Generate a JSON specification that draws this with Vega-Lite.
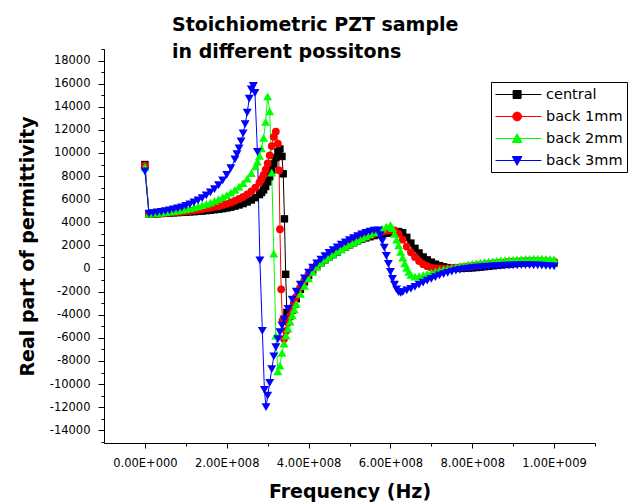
{
  "$schema": "https://vega.github.io/schema/vega-lite/v6.json",
  "width": 491,
  "height": 394,
  "autosize": "none",
  "padding": {"left": 104, "top": 49, "right": 48, "bottom": 59},
  "background": "white",
  "config": {
    "view": {"stroke": null},
    "font": "DejaVu Sans",
    "axis": {"domainColor": "black", "tickColor": "black", "labelColor": "black", "titleColor": "black", "grid": false, "domainWidth": 1, "tickWidth": 1},
    "legend": {"strokeColor": "black", "fillColor": "white", "padding": 5}
  },
  "title": {
    "text": ["Stoichiometric PZT sample", "in different possitons"],
    "anchor": "start",
    "frame": "group",
    "orient": "top",
    "font": "DejaVu Sans",
    "fontWeight": "bold",
    "fontSize": 19,
    "lineHeight": 26.5,
    "color": "black",
    "baseline": "alphabetic",
    "dx": 68,
    "offset": -33.5
  },
  "data": {
    "values": [
      {"s":"central","f":0,"e":9000},{"s":"central","f":1e7,"e":4700},{"s":"central","f":2e7,"e":4720},{"s":"central","f":3e7,"e":4740},{"s":"central","f":4e7,"e":4760},{"s":"central","f":5e7,"e":4780},{"s":"central","f":6e7,"e":4800},{"s":"central","f":7e7,"e":4820},{"s":"central","f":8e7,"e":4840},{"s":"central","f":9e7,"e":4860},
      {"s":"central","f":1e8,"e":4880},{"s":"central","f":1.1e8,"e":4900},{"s":"central","f":1.2e8,"e":4920},{"s":"central","f":1.3e8,"e":4950},{"s":"central","f":1.4e8,"e":4980},{"s":"central","f":1.5e8,"e":5010},{"s":"central","f":1.6e8,"e":5050},{"s":"central","f":1.7e8,"e":5090},{"s":"central","f":1.8e8,"e":5130},{"s":"central","f":1.9e8,"e":5180},
      {"s":"central","f":2e8,"e":5240},{"s":"central","f":2.1e8,"e":5310},{"s":"central","f":2.2e8,"e":5400},{"s":"central","f":2.3e8,"e":5500},{"s":"central","f":2.4e8,"e":5620},{"s":"central","f":2.5e8,"e":5760},{"s":"central","f":2.6e8,"e":5930},{"s":"central","f":2.7e8,"e":6130},{"s":"central","f":2.8e8,"e":6400},{"s":"central","f":2.85e8,"e":6580},{"s":"central","f":2.9e8,"e":6800},{"s":"central","f":2.95e8,"e":7100},
      {"s":"central","f":3e8,"e":7500},{"s":"central","f":3.05e8,"e":7950},{"s":"central","f":3.1e8,"e":8500},{"s":"central","f":3.15e8,"e":9050},{"s":"central","f":3.2e8,"e":9600},{"s":"central","f":3.25e8,"e":10100},{"s":"central","f":3.3e8,"e":10350},{"s":"central","f":3.35e8,"e":9700},{"s":"central","f":3.38e8,"e":8200},{"s":"central","f":3.41e8,"e":4300},{"s":"central","f":3.44e8,"e":-500},{"s":"central","f":3.47e8,"e":-3800},
      {"s":"central","f":3.5e8,"e":-4500},{"s":"central","f":3.55e8,"e":-4100},{"s":"central","f":3.6e8,"e":-3600},{"s":"central","f":3.65e8,"e":-3100},{"s":"central","f":3.7e8,"e":-2600},{"s":"central","f":3.8e8,"e":-1800},{"s":"central","f":3.9e8,"e":-1150},
      {"s":"central","f":4e8,"e":-600},{"s":"central","f":4.1e8,"e":-150},{"s":"central","f":4.2e8,"e":200},{"s":"central","f":4.3e8,"e":500},{"s":"central","f":4.4e8,"e":750},{"s":"central","f":4.5e8,"e":1000},{"s":"central","f":4.6e8,"e":1200},{"s":"central","f":4.7e8,"e":1430},{"s":"central","f":4.8e8,"e":1650},{"s":"central","f":4.9e8,"e":1850},
      {"s":"central","f":5e8,"e":2050},{"s":"central","f":5.1e8,"e":2230},{"s":"central","f":5.2e8,"e":2400},{"s":"central","f":5.3e8,"e":2530},{"s":"central","f":5.4e8,"e":2650},{"s":"central","f":5.5e8,"e":2750},{"s":"central","f":5.6e8,"e":2850},{"s":"central","f":5.7e8,"e":2930},{"s":"central","f":5.8e8,"e":3000},{"s":"central","f":5.9e8,"e":3060},
      {"s":"central","f":6e8,"e":3100},{"s":"central","f":6.1e8,"e":3150},{"s":"central","f":6.2e8,"e":3200},{"s":"central","f":6.3e8,"e":3100},{"s":"central","f":6.4e8,"e":2700},{"s":"central","f":6.5e8,"e":2200},{"s":"central","f":6.6e8,"e":1750},{"s":"central","f":6.7e8,"e":1350},{"s":"central","f":6.8e8,"e":1000},{"s":"central","f":6.9e8,"e":750},
      {"s":"central","f":7e8,"e":550},{"s":"central","f":7.1e8,"e":380},{"s":"central","f":7.2e8,"e":250},{"s":"central","f":7.3e8,"e":150},{"s":"central","f":7.4e8,"e":80},{"s":"central","f":7.5e8,"e":40},{"s":"central","f":7.6e8,"e":20},{"s":"central","f":7.7e8,"e":10},{"s":"central","f":7.8e8,"e":20},{"s":"central","f":7.9e8,"e":40},
      {"s":"central","f":8e8,"e":60},{"s":"central","f":8.1e8,"e":90},{"s":"central","f":8.2e8,"e":120},{"s":"central","f":8.3e8,"e":160},{"s":"central","f":8.4e8,"e":200},{"s":"central","f":8.5e8,"e":240},{"s":"central","f":8.6e8,"e":280},{"s":"central","f":8.7e8,"e":320},{"s":"central","f":8.8e8,"e":350},{"s":"central","f":8.9e8,"e":390},
      {"s":"central","f":9e8,"e":420},{"s":"central","f":9.1e8,"e":450},{"s":"central","f":9.2e8,"e":480},{"s":"central","f":9.3e8,"e":500},{"s":"central","f":9.4e8,"e":520},{"s":"central","f":9.5e8,"e":530},{"s":"central","f":9.6e8,"e":540},{"s":"central","f":9.7e8,"e":540},{"s":"central","f":9.8e8,"e":520},{"s":"central","f":9.9e8,"e":500},{"s":"central","f":1e9,"e":480},

      {"s":"back 1mm","f":0,"e":8900},{"s":"back 1mm","f":1e7,"e":4720},{"s":"back 1mm","f":2e7,"e":4740},{"s":"back 1mm","f":3e7,"e":4760},{"s":"back 1mm","f":4e7,"e":4780},{"s":"back 1mm","f":5e7,"e":4800},{"s":"back 1mm","f":6e7,"e":4830},{"s":"back 1mm","f":7e7,"e":4860},{"s":"back 1mm","f":8e7,"e":4890},{"s":"back 1mm","f":9e7,"e":4920},
      {"s":"back 1mm","f":1e8,"e":4960},{"s":"back 1mm","f":1.1e8,"e":5000},{"s":"back 1mm","f":1.2e8,"e":5040},{"s":"back 1mm","f":1.3e8,"e":5090},{"s":"back 1mm","f":1.4e8,"e":5140},{"s":"back 1mm","f":1.5e8,"e":5200},{"s":"back 1mm","f":1.6e8,"e":5260},{"s":"back 1mm","f":1.7e8,"e":5330},{"s":"back 1mm","f":1.8e8,"e":5410},{"s":"back 1mm","f":1.9e8,"e":5500},
      {"s":"back 1mm","f":2e8,"e":5600},{"s":"back 1mm","f":2.1e8,"e":5720},{"s":"back 1mm","f":2.2e8,"e":5860},{"s":"back 1mm","f":2.3e8,"e":6020},{"s":"back 1mm","f":2.4e8,"e":6200},{"s":"back 1mm","f":2.5e8,"e":6420},{"s":"back 1mm","f":2.6e8,"e":6680},{"s":"back 1mm","f":2.7e8,"e":7000},{"s":"back 1mm","f":2.8e8,"e":7450},{"s":"back 1mm","f":2.85e8,"e":7750},{"s":"back 1mm","f":2.9e8,"e":8100},{"s":"back 1mm","f":2.95e8,"e":8550},
      {"s":"back 1mm","f":3e8,"e":9100},{"s":"back 1mm","f":3.05e8,"e":9800},{"s":"back 1mm","f":3.1e8,"e":10600},{"s":"back 1mm","f":3.15e8,"e":11400},{"s":"back 1mm","f":3.2e8,"e":11850},{"s":"back 1mm","f":3.25e8,"e":10800},{"s":"back 1mm","f":3.28e8,"e":8500},{"s":"back 1mm","f":3.3e8,"e":3400},{"s":"back 1mm","f":3.33e8,"e":-1800},{"s":"back 1mm","f":3.36e8,"e":-4500},
      {"s":"back 1mm","f":3.4e8,"e":-6100},{"s":"back 1mm","f":3.45e8,"e":-5400},{"s":"back 1mm","f":3.5e8,"e":-4700},{"s":"back 1mm","f":3.55e8,"e":-4100},{"s":"back 1mm","f":3.6e8,"e":-3500},{"s":"back 1mm","f":3.65e8,"e":-2950},{"s":"back 1mm","f":3.7e8,"e":-2450},{"s":"back 1mm","f":3.8e8,"e":-1650},{"s":"back 1mm","f":3.9e8,"e":-1050},
      {"s":"back 1mm","f":4e8,"e":-500},{"s":"back 1mm","f":4.1e8,"e":-80},{"s":"back 1mm","f":4.2e8,"e":280},{"s":"back 1mm","f":4.3e8,"e":560},{"s":"back 1mm","f":4.4e8,"e":820},{"s":"back 1mm","f":4.5e8,"e":1050},{"s":"back 1mm","f":4.6e8,"e":1270},{"s":"back 1mm","f":4.7e8,"e":1480},{"s":"back 1mm","f":4.8e8,"e":1700},{"s":"back 1mm","f":4.9e8,"e":1900},
      {"s":"back 1mm","f":5e8,"e":2100},{"s":"back 1mm","f":5.1e8,"e":2280},{"s":"back 1mm","f":5.2e8,"e":2450},{"s":"back 1mm","f":5.3e8,"e":2600},{"s":"back 1mm","f":5.4e8,"e":2750},{"s":"back 1mm","f":5.5e8,"e":2880},{"s":"back 1mm","f":5.6e8,"e":3000},{"s":"back 1mm","f":5.7e8,"e":3100},{"s":"back 1mm","f":5.8e8,"e":3200},{"s":"back 1mm","f":5.9e8,"e":3260},
      {"s":"back 1mm","f":6e8,"e":3300},{"s":"back 1mm","f":6.1e8,"e":3300},{"s":"back 1mm","f":6.2e8,"e":3000},{"s":"back 1mm","f":6.3e8,"e":2500},{"s":"back 1mm","f":6.4e8,"e":1900},{"s":"back 1mm","f":6.5e8,"e":1400},{"s":"back 1mm","f":6.6e8,"e":1000},{"s":"back 1mm","f":6.7e8,"e":650},{"s":"back 1mm","f":6.8e8,"e":380},{"s":"back 1mm","f":6.9e8,"e":200},
      {"s":"back 1mm","f":7e8,"e":80},{"s":"back 1mm","f":7.1e8,"e":20},{"s":"back 1mm","f":7.2e8,"e":0},{"s":"back 1mm","f":7.3e8,"e":0},{"s":"back 1mm","f":7.4e8,"e":10},{"s":"back 1mm","f":7.5e8,"e":30},{"s":"back 1mm","f":7.6e8,"e":60},{"s":"back 1mm","f":7.7e8,"e":100},{"s":"back 1mm","f":7.8e8,"e":140},{"s":"back 1mm","f":7.9e8,"e":180},
      {"s":"back 1mm","f":8e8,"e":220},{"s":"back 1mm","f":8.1e8,"e":270},{"s":"back 1mm","f":8.2e8,"e":320},{"s":"back 1mm","f":8.3e8,"e":370},{"s":"back 1mm","f":8.4e8,"e":410},{"s":"back 1mm","f":8.5e8,"e":450},{"s":"back 1mm","f":8.6e8,"e":490},{"s":"back 1mm","f":8.7e8,"e":520},{"s":"back 1mm","f":8.8e8,"e":550},{"s":"back 1mm","f":8.9e8,"e":580},
      {"s":"back 1mm","f":9e8,"e":600},{"s":"back 1mm","f":9.1e8,"e":620},{"s":"back 1mm","f":9.2e8,"e":640},{"s":"back 1mm","f":9.3e8,"e":650},{"s":"back 1mm","f":9.4e8,"e":660},{"s":"back 1mm","f":9.5e8,"e":660},{"s":"back 1mm","f":9.6e8,"e":660},{"s":"back 1mm","f":9.7e8,"e":650},{"s":"back 1mm","f":9.8e8,"e":640},{"s":"back 1mm","f":9.9e8,"e":620},{"s":"back 1mm","f":1e9,"e":600},

      {"s":"back 2mm","f":0,"e":8800},{"s":"back 2mm","f":1e7,"e":4740},{"s":"back 2mm","f":2e7,"e":4770},{"s":"back 2mm","f":3e7,"e":4800},{"s":"back 2mm","f":4e7,"e":4840},{"s":"back 2mm","f":5e7,"e":4880},{"s":"back 2mm","f":6e7,"e":4920},{"s":"back 2mm","f":7e7,"e":4970},{"s":"back 2mm","f":8e7,"e":5020},{"s":"back 2mm","f":9e7,"e":5080},
      {"s":"back 2mm","f":1e8,"e":5140},{"s":"back 2mm","f":1.1e8,"e":5210},{"s":"back 2mm","f":1.2e8,"e":5290},{"s":"back 2mm","f":1.3e8,"e":5380},{"s":"back 2mm","f":1.4e8,"e":5480},{"s":"back 2mm","f":1.5e8,"e":5590},{"s":"back 2mm","f":1.6e8,"e":5710},{"s":"back 2mm","f":1.7e8,"e":5850},{"s":"back 2mm","f":1.8e8,"e":6000},{"s":"back 2mm","f":1.9e8,"e":6170},
      {"s":"back 2mm","f":2e8,"e":6360},{"s":"back 2mm","f":2.1e8,"e":6570},{"s":"back 2mm","f":2.2e8,"e":6810},{"s":"back 2mm","f":2.3e8,"e":7080},{"s":"back 2mm","f":2.4e8,"e":7400},{"s":"back 2mm","f":2.5e8,"e":7780},{"s":"back 2mm","f":2.6e8,"e":8250},{"s":"back 2mm","f":2.7e8,"e":8850},{"s":"back 2mm","f":2.75e8,"e":9250},{"s":"back 2mm","f":2.8e8,"e":9750},{"s":"back 2mm","f":2.85e8,"e":10400},{"s":"back 2mm","f":2.9e8,"e":11300},{"s":"back 2mm","f":2.95e8,"e":12700},
      {"s":"back 2mm","f":3e8,"e":14900},{"s":"back 2mm","f":3.05e8,"e":13600},{"s":"back 2mm","f":3.1e8,"e":8300},{"s":"back 2mm","f":3.15e8,"e":1300},{"s":"back 2mm","f":3.2e8,"e":-5800},{"s":"back 2mm","f":3.25e8,"e":-8900},{"s":"back 2mm","f":3.3e8,"e":-8400},{"s":"back 2mm","f":3.35e8,"e":-7300},{"s":"back 2mm","f":3.4e8,"e":-6500},{"s":"back 2mm","f":3.45e8,"e":-5800},
      {"s":"back 2mm","f":3.5e8,"e":-5200},{"s":"back 2mm","f":3.55e8,"e":-4600},{"s":"back 2mm","f":3.6e8,"e":-4050},{"s":"back 2mm","f":3.65e8,"e":-3550},{"s":"back 2mm","f":3.7e8,"e":-3050},{"s":"back 2mm","f":3.8e8,"e":-2200},{"s":"back 2mm","f":3.9e8,"e":-1500},
      {"s":"back 2mm","f":4e8,"e":-850},{"s":"back 2mm","f":4.1e8,"e":-300},{"s":"back 2mm","f":4.2e8,"e":150},{"s":"back 2mm","f":4.3e8,"e":480},{"s":"back 2mm","f":4.4e8,"e":760},{"s":"back 2mm","f":4.5e8,"e":1010},{"s":"back 2mm","f":4.6e8,"e":1250},{"s":"back 2mm","f":4.7e8,"e":1470},{"s":"back 2mm","f":4.8e8,"e":1680},{"s":"back 2mm","f":4.9e8,"e":1880},
      {"s":"back 2mm","f":5e8,"e":2080},{"s":"back 2mm","f":5.1e8,"e":2270},{"s":"back 2mm","f":5.2e8,"e":2450},{"s":"back 2mm","f":5.3e8,"e":2620},{"s":"back 2mm","f":5.4e8,"e":2790},{"s":"back 2mm","f":5.5e8,"e":2960},{"s":"back 2mm","f":5.6e8,"e":3120},{"s":"back 2mm","f":5.7e8,"e":3290},{"s":"back 2mm","f":5.8e8,"e":3450},{"s":"back 2mm","f":5.9e8,"e":3620},
      {"s":"back 2mm","f":6e8,"e":3750},{"s":"back 2mm","f":6.05e8,"e":3500},{"s":"back 2mm","f":6.1e8,"e":3000},{"s":"back 2mm","f":6.15e8,"e":2500},{"s":"back 2mm","f":6.2e8,"e":2000},{"s":"back 2mm","f":6.25e8,"e":1450},{"s":"back 2mm","f":6.3e8,"e":950},{"s":"back 2mm","f":6.35e8,"e":450},{"s":"back 2mm","f":6.4e8,"e":50},{"s":"back 2mm","f":6.45e8,"e":-300},
      {"s":"back 2mm","f":6.5e8,"e":-550},{"s":"back 2mm","f":6.6e8,"e":-700},{"s":"back 2mm","f":6.7e8,"e":-650},{"s":"back 2mm","f":6.8e8,"e":-560},{"s":"back 2mm","f":6.9e8,"e":-460},{"s":"back 2mm","f":7e8,"e":-360},{"s":"back 2mm","f":7.1e8,"e":-260},{"s":"back 2mm","f":7.2e8,"e":-170},{"s":"back 2mm","f":7.3e8,"e":-80},{"s":"back 2mm","f":7.4e8,"e":0},
      {"s":"back 2mm","f":7.5e8,"e":80},{"s":"back 2mm","f":7.6e8,"e":150},{"s":"back 2mm","f":7.7e8,"e":220},{"s":"back 2mm","f":7.8e8,"e":280},{"s":"back 2mm","f":7.9e8,"e":340},{"s":"back 2mm","f":8e8,"e":400},{"s":"back 2mm","f":8.1e8,"e":450},{"s":"back 2mm","f":8.2e8,"e":500},{"s":"back 2mm","f":8.3e8,"e":550},{"s":"back 2mm","f":8.4e8,"e":590},
      {"s":"back 2mm","f":8.5e8,"e":630},{"s":"back 2mm","f":8.6e8,"e":670},{"s":"back 2mm","f":8.7e8,"e":700},{"s":"back 2mm","f":8.8e8,"e":730},{"s":"back 2mm","f":8.9e8,"e":760},{"s":"back 2mm","f":9e8,"e":780},{"s":"back 2mm","f":9.1e8,"e":800},{"s":"back 2mm","f":9.2e8,"e":820},{"s":"back 2mm","f":9.3e8,"e":830},{"s":"back 2mm","f":9.4e8,"e":840},
      {"s":"back 2mm","f":9.5e8,"e":850},{"s":"back 2mm","f":9.6e8,"e":850},{"s":"back 2mm","f":9.7e8,"e":850},{"s":"back 2mm","f":9.8e8,"e":840},{"s":"back 2mm","f":9.9e8,"e":820},{"s":"back 2mm","f":1e9,"e":800},

      {"s":"back 3mm","f":0,"e":8400},{"s":"back 3mm","f":1e7,"e":4760},{"s":"back 3mm","f":2e7,"e":4800},{"s":"back 3mm","f":3e7,"e":4850},{"s":"back 3mm","f":4e7,"e":4900},{"s":"back 3mm","f":5e7,"e":4960},{"s":"back 3mm","f":6e7,"e":5030},{"s":"back 3mm","f":7e7,"e":5110},{"s":"back 3mm","f":8e7,"e":5200},{"s":"back 3mm","f":9e7,"e":5300},
      {"s":"back 3mm","f":1e8,"e":5420},{"s":"back 3mm","f":1.1e8,"e":5560},{"s":"back 3mm","f":1.2e8,"e":5720},{"s":"back 3mm","f":1.3e8,"e":5900},{"s":"back 3mm","f":1.4e8,"e":6100},{"s":"back 3mm","f":1.5e8,"e":6330},{"s":"back 3mm","f":1.6e8,"e":6590},{"s":"back 3mm","f":1.7e8,"e":6880},{"s":"back 3mm","f":1.8e8,"e":7220},{"s":"back 3mm","f":1.9e8,"e":7620},
      {"s":"back 3mm","f":2e8,"e":8100},{"s":"back 3mm","f":2.1e8,"e":8700},{"s":"back 3mm","f":2.2e8,"e":9450},{"s":"back 3mm","f":2.25e8,"e":9900},{"s":"back 3mm","f":2.3e8,"e":10400},{"s":"back 3mm","f":2.35e8,"e":11000},{"s":"back 3mm","f":2.4e8,"e":11700},{"s":"back 3mm","f":2.45e8,"e":12500},{"s":"back 3mm","f":2.5e8,"e":13500},{"s":"back 3mm","f":2.55e8,"e":14700},{"s":"back 3mm","f":2.6e8,"e":15500},{"s":"back 3mm","f":2.65e8,"e":15800},
      {"s":"back 3mm","f":2.69e8,"e":15200},{"s":"back 3mm","f":2.75e8,"e":10100},{"s":"back 3mm","f":2.81e8,"e":700},{"s":"back 3mm","f":2.87e8,"e":-5400},{"s":"back 3mm","f":2.92e8,"e":-10500},{"s":"back 3mm","f":2.96e8,"e":-12000},{"s":"back 3mm","f":3e8,"e":-11000},{"s":"back 3mm","f":3.05e8,"e":-9900},{"s":"back 3mm","f":3.1e8,"e":-8700},{"s":"back 3mm","f":3.15e8,"e":-7600},
      {"s":"back 3mm","f":3.2e8,"e":-6800},{"s":"back 3mm","f":3.25e8,"e":-6100},{"s":"back 3mm","f":3.3e8,"e":-5500},{"s":"back 3mm","f":3.35e8,"e":-4950},{"s":"back 3mm","f":3.4e8,"e":-4400},{"s":"back 3mm","f":3.5e8,"e":-3500},{"s":"back 3mm","f":3.6e8,"e":-2700},{"s":"back 3mm","f":3.7e8,"e":-2000},{"s":"back 3mm","f":3.8e8,"e":-1400},{"s":"back 3mm","f":3.9e8,"e":-850},
      {"s":"back 3mm","f":4e8,"e":-350},{"s":"back 3mm","f":4.1e8,"e":80},{"s":"back 3mm","f":4.2e8,"e":450},{"s":"back 3mm","f":4.3e8,"e":780},{"s":"back 3mm","f":4.4e8,"e":1080},{"s":"back 3mm","f":4.5e8,"e":1350},{"s":"back 3mm","f":4.6e8,"e":1600},{"s":"back 3mm","f":4.7e8,"e":1840},{"s":"back 3mm","f":4.8e8,"e":2060},{"s":"back 3mm","f":4.9e8,"e":2270},
      {"s":"back 3mm","f":5e8,"e":2460},{"s":"back 3mm","f":5.1e8,"e":2640},{"s":"back 3mm","f":5.2e8,"e":2800},{"s":"back 3mm","f":5.3e8,"e":2950},{"s":"back 3mm","f":5.4e8,"e":3080},{"s":"back 3mm","f":5.5e8,"e":3200},{"s":"back 3mm","f":5.6e8,"e":3280},{"s":"back 3mm","f":5.7e8,"e":3300},{"s":"back 3mm","f":5.75e8,"e":2900},{"s":"back 3mm","f":5.8e8,"e":2400},
      {"s":"back 3mm","f":5.85e8,"e":1800},{"s":"back 3mm","f":5.9e8,"e":1100},{"s":"back 3mm","f":5.95e8,"e":400},{"s":"back 3mm","f":6e8,"e":-300},{"s":"back 3mm","f":6.05e8,"e":-900},{"s":"back 3mm","f":6.1e8,"e":-1400},{"s":"back 3mm","f":6.15e8,"e":-1800},{"s":"back 3mm","f":6.2e8,"e":-2050},{"s":"back 3mm","f":6.25e8,"e":-2100},{"s":"back 3mm","f":6.3e8,"e":-2050},
      {"s":"back 3mm","f":6.4e8,"e":-1900},{"s":"back 3mm","f":6.5e8,"e":-1750},{"s":"back 3mm","f":6.6e8,"e":-1580},{"s":"back 3mm","f":6.7e8,"e":-1400},{"s":"back 3mm","f":6.8e8,"e":-1220},{"s":"back 3mm","f":6.9e8,"e":-1050},{"s":"back 3mm","f":7e8,"e":-890},{"s":"back 3mm","f":7.1e8,"e":-740},{"s":"back 3mm","f":7.2e8,"e":-600},{"s":"back 3mm","f":7.3e8,"e":-480},
      {"s":"back 3mm","f":7.4e8,"e":-370},{"s":"back 3mm","f":7.5e8,"e":-270},{"s":"back 3mm","f":7.6e8,"e":-180},{"s":"back 3mm","f":7.7e8,"e":-110},{"s":"back 3mm","f":7.8e8,"e":-50},{"s":"back 3mm","f":7.9e8,"e":0},{"s":"back 3mm","f":8e8,"e":40},{"s":"back 3mm","f":8.1e8,"e":80},{"s":"back 3mm","f":8.2e8,"e":110},{"s":"back 3mm","f":8.3e8,"e":140},
      {"s":"back 3mm","f":8.4e8,"e":170},{"s":"back 3mm","f":8.5e8,"e":190},{"s":"back 3mm","f":8.6e8,"e":210},{"s":"back 3mm","f":8.7e8,"e":230},{"s":"back 3mm","f":8.8e8,"e":250},{"s":"back 3mm","f":8.9e8,"e":260},{"s":"back 3mm","f":9e8,"e":270},{"s":"back 3mm","f":9.1e8,"e":280},{"s":"back 3mm","f":9.2e8,"e":290},{"s":"back 3mm","f":9.3e8,"e":290},
      {"s":"back 3mm","f":9.4e8,"e":290},{"s":"back 3mm","f":9.5e8,"e":280},{"s":"back 3mm","f":9.6e8,"e":270},{"s":"back 3mm","f":9.7e8,"e":250},{"s":"back 3mm","f":9.8e8,"e":230},{"s":"back 3mm","f":9.9e8,"e":210},{"s":"back 3mm","f":1e9,"e":190}
    ]
  },
  "encoding": {
    "x": {
      "field": "f", "type": "quantitative",
      "scale": {"domain": [-1e8, 1.1e9], "nice": false, "zero": false},
      "axis": {
        "title": "Frequency (Hz)",
        "values": [0, 1e8, 2e8, 3e8, 4e8, 5e8, 6e8, 7e8, 8e8, 9e8, 1e9, 1.1e9],
        "labelExpr": "datum.value % 2e8 == 0 ? replace(upper(format(datum.value, '.2e')), 'E+', 'E+00') : ''",
        "tickSize": {"condition": {"test": "datum.value % 2e8 == 0", "value": 5}, "value": 3},
        "labelFont": "DejaVu Sans", "labelFontSize": 11.5, "labelBaseline": "alphabetic", "labelPadding": 18,
        "labelFlush": false, "labelOverlap": false,
        "titleFont": "DejaVu Sans", "titleFontWeight": "bold", "titleFontSize": 19,
        "titleX": 245.5, "titleY": 54, "titleAlign": "center", "titleBaseline": "alphabetic"
      }
    },
    "y": {
      "field": "e", "type": "quantitative",
      "scale": {"domain": [-15100, 19000], "nice": false, "zero": false},
      "axis": {
        "title": "Real part of permittivity",
        "values": [-15000,-14000,-13000,-12000,-11000,-10000,-9000,-8000,-7000,-6000,-5000,-4000,-3000,-2000,-1000,0,1000,2000,3000,4000,5000,6000,7000,8000,9000,10000,11000,12000,13000,14000,15000,16000,17000,18000,19000],
        "labelExpr": "datum.value % 2000 == 0 && datum.value >= -14000 && datum.value <= 18000 ? toString(datum.value) : ''",
        "tickSize": {"condition": {"test": "datum.value % 2000 == 0", "value": 6}, "value": 3},
        "labelFont": "DejaVu Sans", "labelFontSize": 11.5, "labelPadding": 8,
        "labelOverlap": false, "labelFlush": false,
        "titleFont": "DejaVu Sans", "titleFontWeight": "bold", "titleFontSize": 19,
        "titleX": -77, "titleY": 197, "titleAngle": -90, "titleAlign": "center", "titleBaseline": "middle"
      }
    },
    "color": {
      "field": "s", "type": "nominal",
      "scale": {"domain": ["central", "back 1mm", "back 2mm", "back 3mm"], "range": ["#000000", "#ff0000", "#00ff00", "#0000ff"]},
      "legend": {
        "title": null,
        "orient": "none",
        "legendX": 387,
        "legendY": 33,
        "direction": "vertical",
        "strokeColor": "black",
        "fillColor": "white",
        "padding": 4,
        "labelFont": "DejaVu Sans",
        "labelFontSize": 14.5,
        "labelColor": "black",
        "symbolSize": 256,
        "symbolOpacity": 1,
        "labelOffset": 34,
        "rowPadding": 7,
        "encode": {
          "legend": {
            "update": {
              "stroke": {"value": "black"},
              "strokeWidth": {"value": 1},
              "fill": {"value": "white"}
            }
          },
          "symbols": {
            "update": {
              "shape": {"signal": "datum.value == 'central' ? 'M-1,0H4.75M1.2,-0.5H2.2V0.5H1.2Z' : datum.value == 'back 1mm' ? 'M-1,0H4.75M1.15,0A0.55,0.55 0 1,0 2.25,0A0.55,0.55 0 1,0 1.15,0Z' : datum.value == 'back 2mm' ? 'M-1,0H4.75M1.7,-0.6L2.3,0.5L1.1,0.5Z' : 'M-1,0H4.75M1.7,0.6L2.3,-0.5L1.1,-0.5Z'"},
              "fill": {"signal": "scale('color', datum.value)"},
              "stroke": {"signal": "scale('color', datum.value)"},
              "strokeWidth": {"value": 1},
              "opacity": {"value": 1},
              "fillOpacity": {"value": 1},
              "strokeOpacity": {"value": 1}
            }
          }
        }
      }
    }
  },
  "layer": [
    {
      "mark": {"type": "line", "strokeWidth": 1, "clip": true},
      "encoding": {"detail": {"field": "s"}}
    },
    {
      "transform": [{"filter": "datum.s == 'central'"}],
      "mark": {"type": "point", "shape": "square", "filled": true, "opacity": 1, "size": 55, "clip": true}
    },
    {
      "transform": [{"filter": "datum.s == 'back 1mm'"}],
      "mark": {"type": "point", "shape": "circle", "filled": true, "opacity": 1, "size": 60, "clip": true}
    },
    {
      "transform": [{"filter": "datum.s == 'back 2mm'"}],
      "mark": {"type": "point", "shape": "triangle-up", "filled": true, "opacity": 1, "size": 80, "clip": true}
    },
    {
      "transform": [{"filter": "datum.s == 'back 3mm'"}],
      "mark": {"type": "point", "shape": "triangle-down", "filled": true, "opacity": 1, "size": 80, "clip": true}
    }
  ]
}
